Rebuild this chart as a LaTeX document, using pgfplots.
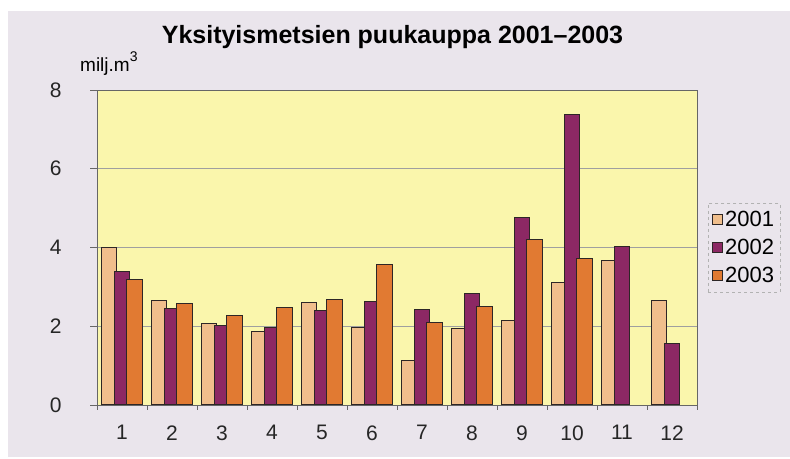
\documentclass[border=0pt]{standalone}
\usepackage{pgfplots}
\pgfplotsset{compat=1.18}
\usepackage{fontspec}
\setmainfont{Liberation Sans}
\definecolor{bgc}{RGB}{234,229,236}
\definecolor{plotbg}{RGB}{250,246,172}
\definecolor{cA}{RGB}{240,190,140}
\definecolor{cB}{RGB}{140,40,100}
\definecolor{cC}{RGB}{225,122,50}
\definecolor{edge}{RGB}{45,38,38}
\begin{document}
\begin{tikzpicture}[x=1pt,y=1pt]
\fill[white] (0,0) rectangle (790,458);
\fill[bgc] (8,1) rectangle (790,447);
\node[font=\bfseries\fontsize{25}{30}\selectfont] at (392.5,421) {Yksityismetsien puukauppa 2001--2003};
\node[anchor=base west, inner sep=0pt, font=\fontsize{19}{22}\selectfont] at (80,386) {milj.m\raisebox{0.55em}{\fontsize{14}{16}\selectfont 3}};
\begin{axis}[
  at={(97pt,53pt)}, anchor=south west,
  scale only axis, width=600pt, height=315pt,
  xmin=0.5, xmax=12.5, ymin=0, ymax=8,
  ytick={0,2,4,6,8},
  yticklabel={\pgfmathprintnumber{\tick}\hspace*{25pt}},
  xtick={1,...,12},
  xticklabels={1,2,3,4,5,6,7,8,9,10,11,12},
  /pgf/number format/assume math mode=true,
  tick label style={font=\fontsize{21}{24}\selectfont, text=black!85},
  tick align=outside, tick pos=left,
  xtick style={draw=none},
  ytick style={draw=gray!80!black, line width=0.8pt},
  major tick length=7pt,
  xticklabel shift=10pt,
  extra x ticks={0.5,1.5,...,12.5},
  extra x tick labels={},
  extra x tick style={xtick style={draw=gray!80!black, line width=0.8pt}, major tick length=5pt},
  axis line style={gray!80!black, line width=0.8pt},
  axis background/.style={fill=plotbg},
  ymajorgrids,
  major grid style={gray!75, line width=0.9pt},
  ybar, bar width=0.31,
  every axis plot/.append style={draw=edge, line width=1pt},
  legend style={at={(1,0.5)}, anchor=west, xshift=11pt, draw=gray!60, dashed, fill=bgc,
    font=\fontsize{22}{25}\selectfont, row sep=7pt, inner xsep=4pt, inner ysep=6pt,
    /tikz/every even column/.append style={column sep=1pt}},
  legend cell align=left,
  legend image code/.code={\draw[#1, solid, line width=0.9pt] (0pt,-5pt) rectangle (10pt,5pt);},
]
\addplot[fill=cA, bar shift=-0.265] coordinates {(1,4.00)(2,2.65)(3,2.06)(4,1.87)(5,2.60)(6,1.96)(7,1.12)(8,1.95)(9,2.14)(10,3.12)(11,3.67)(12,2.66)};
\addplot[fill=cB, bar shift=0] coordinates {(1,3.38)(2,2.45)(3,2.01)(4,1.98)(5,2.40)(6,2.64)(7,2.42)(8,2.83)(9,4.77)(10,7.39)(11,4.03)(12,1.57)};
\addplot[fill=cC, bar shift=0.245] coordinates {(1,3.19)(2,2.57)(3,2.28)(4,2.47)(5,2.68)(6,3.58)(7,2.10)(8,2.49)(9,4.21)(10,3.71)};
\legend{2001,2002,2003}
\end{axis}
\end{tikzpicture}
\end{document}
